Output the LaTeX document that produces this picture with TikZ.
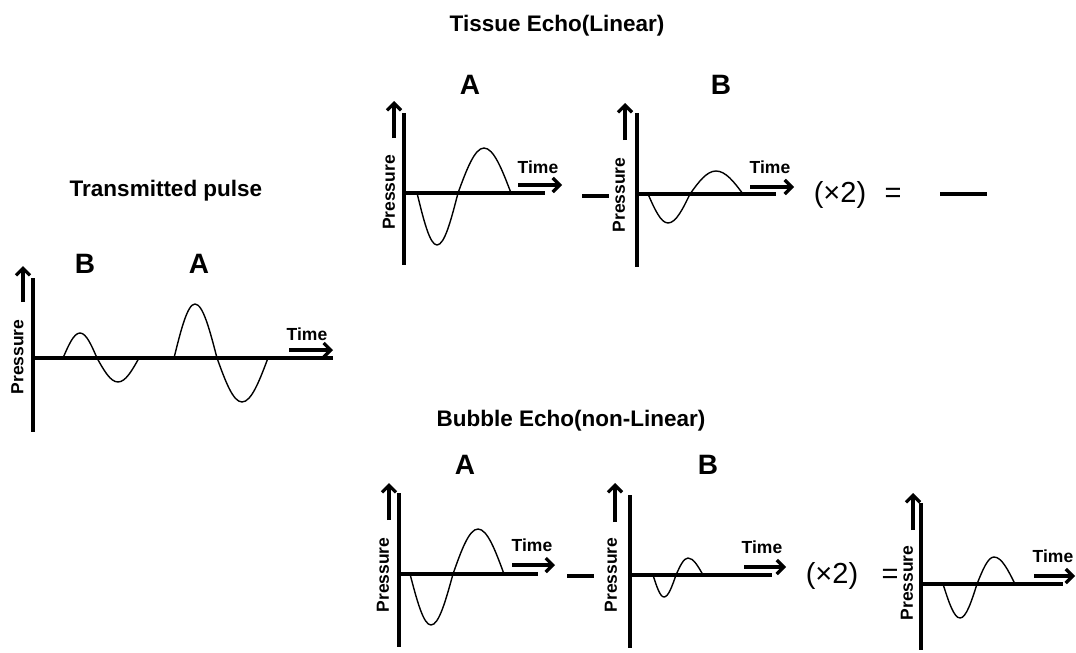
\documentclass[tikz,border=0pt]{standalone}
\usepackage{fontspec}
\setmainfont{Liberation Sans}
\usetikzlibrary{arrows.meta}

\begin{document}
\begin{tikzpicture}[x=1pt, y=-1pt,
	axis/.style={line width=3.3pt},
	wave/.style={line width=1.4pt, line join=round},
	dirarrow/.style={line width=3.2pt, -{Straight Barb[length=7pt, width=14pt]}},
	title/.style={anchor=base, inner sep=0pt, font=\fontsize{22.5}{24}\selectfont\bfseries},
	tag/.style={anchor=center, inner sep=0pt, font=\fontsize{28}{30}\selectfont\bfseries},
	timelbl/.style={anchor=center, inner sep=0pt, font=\fontsize{17.5}{19}\selectfont\bfseries},
	preslbl/.style={anchor=center, inner sep=0pt, rotate=90, font=\fontsize{17.5}{19}\selectfont\bfseries},
	oplbl/.style={anchor=base, inner sep=0pt, font=\fontsize{29}{31}\selectfont}]
	\useasboundingbox (0, 0) rectangle (1076, 653);
	% titles
	\node[title] (ttissue) at (557, 31) {Tissue Echo(Linear)};
	\node[title] (tpulse) at (166, 196.5) {Transmitted pulse};
	\node[title] (tbubble) at (571, 426.5) {Bubble Echo(non-Linear)};
	% transmitted pulse
	\draw[axis] (33, 278) -- (33, 432);
	\draw[axis] (33, 358) -- (333, 358);
	\draw[dirarrow] (23, 302) -- (23, 266);
	\draw[dirarrow] (289, 350) -- (333, 350);
	\node[preslbl] (ppulse) at (17.5, 357) {Pressure};
	\node[timelbl] (mpulse) at (307, 334.5) {Time};
	\node[tag] (bpulse) at (85, 263.5) {B};
	\node[tag] (apulse) at (199, 263.5) {A};
	\draw[wave] (63, 358) sin (80, 333) cos (97, 358) sin (118, 382) cos (139, 358);
	\draw[wave] (174, 358) sin (195, 304) cos (217, 358) sin (242, 402) cos (268, 358);
	% tissue echo A
	\draw[axis] (404, 113) -- (404, 265);
	\draw[axis] (404, 193) -- (545, 193);
	\draw[dirarrow] (394, 138) -- (394, 101);
	\draw[dirarrow] (518, 185) -- (562, 185);
	\node[preslbl] (pta) at (389, 192.5) {Pressure};
	\node[timelbl] (mta) at (538, 167) {Time};
	\node[tag] (lta) at (470, 85) {A};
	\draw[wave] (417, 193) sin (437, 245) cos (458, 193) sin (484, 148) cos (511, 193);
	\draw[axis] (582, 196) -- (609, 196);
	% tissue echo B
	\draw[axis] (637, 113) -- (637, 267);
	\draw[axis] (637, 194) -- (776, 194);
	\draw[dirarrow] (625, 140) -- (625, 103);
	\draw[dirarrow] (750, 187) -- (794, 187);
	\node[preslbl] (ptb) at (619, 195) {Pressure};
	\node[timelbl] (mtb) at (770, 167) {Time};
	\node[tag] (ltb) at (721, 85) {B};
	\draw[wave] (648, 194) sin (668, 223) cos (690, 194) sin (716, 171) cos (743, 194);
	\node[oplbl] (xtissue) at (840, 202) {(×2)};
	\node[oplbl] (etissue) at (893, 202) {=};
	\draw[axis] (940, 194) -- (987, 194);
	% bubble echo A
	\draw[axis] (399, 493) -- (399, 647);
	\draw[axis] (399, 574) -- (538, 574);
	\draw[dirarrow] (389, 520) -- (389, 483);
	\draw[dirarrow] (512, 565) -- (555, 565);
	\node[preslbl] (pba) at (383, 575) {Pressure};
	\node[timelbl] (mba) at (532, 545) {Time};
	\node[tag] (lba) at (465, 465) {A};
	\draw[wave] (410, 574) sin (431, 625) cos (453, 574) sin (478, 529) cos (504, 574);
	\draw[axis] (567, 576) -- (594, 576);
	% bubble echo B
	\draw[axis] (630, 495) -- (630, 648);
	\draw[axis] (630, 575) -- (772, 575);
	\draw[dirarrow] (615, 522) -- (615, 483);
	\draw[dirarrow] (744, 567) -- (786, 567);
	\node[preslbl] (pbb) at (611, 575) {Pressure};
	\node[timelbl] (mbb) at (762, 547) {Time};
	\node[tag] (lbb) at (708, 465) {B};
	\draw[wave] (653, 575) sin (664, 597) cos (676, 575) sin (688, 558) cos (703, 575);
	\node[oplbl] (xbubble) at (832, 583) {(×2)};
	\node[oplbl] (ebubble) at (890, 583) {=};
	% bubble echo result
	\draw[axis] (921, 503) -- (921, 650);
	\draw[axis] (921, 584) -- (1063, 584);
	\draw[dirarrow] (913, 530) -- (913, 493);
	\draw[dirarrow] (1034, 576) -- (1075, 576);
	\node[preslbl] (pbr) at (907, 583) {Pressure};
	\node[timelbl] (mbr) at (1053, 556) {Time};
	\draw[wave] (943, 584) sin (960, 618) cos (977, 584) sin (994, 557) cos (1015, 584);
\end{tikzpicture}
\end{document}
